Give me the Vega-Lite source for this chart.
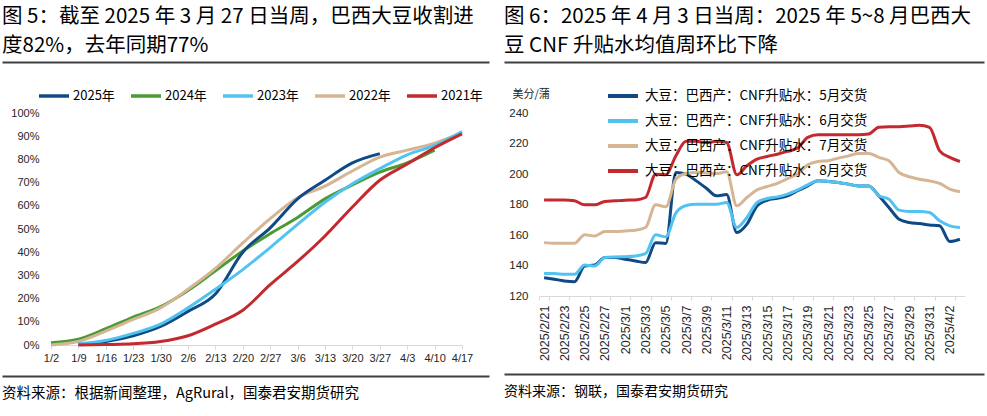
{
  "$schema": "https://vega.github.io/schema/vega-lite/v6.json",
  "background": "white",
  "padding": {"left": 2, "top": 0, "right": 0, "bottom": 0},
  "config": {
    "view": {"stroke": null},
    "font": "Liberation Sans",
    "axis": {"labelFont": "Liberation Sans", "labelColor": "#262626", "grid": false}
  },
  "resolve": {"scale": {"color": "independent"}, "legend": {"color": "independent"}},
  "spacing": -34,
  "hconcat": [
    {
      "columns": 1,
      "align": "none",
      "spacing": 13,
      "resolve": {"scale": {"color": "independent"}, "legend": {"color": "independent"}},
      "concat": [
        {
          "width": 438,
          "height": 66,
          "data": {"values": [
            {"line": 1, "text": "图 5：截至 2025 年 3 月 27 日当周，巴西大豆收割进"},
            {"line": 2, "text": "度82%，去年同期77%"}
          ]},
          "mark": {"type": "text", "align": "left", "baseline": "middle", "font": "Noto Sans CJK SC", "fontSize": 20.5, "color": "#000000"},
          "encoding": {
            "x": {"datum": 0, "type": "quantitative", "scale": {"domain": [0, 1], "range": [-49, 438]},
                  "axis": {"domain": true, "domainColor": "#404040", "domainWidth": 2, "ticks": false, "labels": false, "title": null, "offset": -4}},
            "y": {"field": "line", "type": "ordinal", "scale": {"type": "point", "range": [17, 46], "padding": 0}, "axis": null},
            "text": {"field": "text"}
          }
        },
        {
          "width": 411,
          "height": 232,
          "data": {"values": [
            {"date": "1/2", "2024年": 1, "2022年": 0},
            {"date": "1/9", "2025年": 0.3, "2024年": 2.5, "2023年": 0.5, "2022年": 1.5, "2021年": 0},
            {"date": "1/16", "2025年": 1.5, "2024年": 7, "2023年": 2, "2022年": 6, "2021年": 0.2},
            {"date": "1/23", "2025年": 4, "2024年": 12, "2023年": 5, "2022年": 11, "2021年": 0.5},
            {"date": "1/30", "2025年": 8, "2024年": 16.5, "2023年": 9, "2022年": 16, "2021年": 1.5},
            {"date": "2/6", "2025年": 14.5, "2024年": 23.5, "2023年": 16, "2022年": 24, "2021年": 4},
            {"date": "2/13", "2025年": 22, "2024年": 32, "2023年": 24, "2022年": 33, "2021年": 9},
            {"date": "2/20", "2025年": 40, "2024年": 40.5, "2023年": 32.5, "2022年": 44, "2021年": 15},
            {"date": "2/27", "2025年": 50.5, "2024年": 48, "2023年": 42, "2022年": 54.5, "2021年": 26},
            {"date": "3/6", "2025年": 63, "2024年": 55, "2023年": 52, "2022年": 63.5, "2021年": 36},
            {"date": "3/13", "2025年": 71, "2024年": 63, "2023年": 61.5, "2022年": 68.5, "2021年": 47},
            {"date": "3/20", "2025年": 78.5, "2024年": 69, "2023年": 69.5, "2022年": 75, "2021年": 59.5},
            {"date": "3/27", "2025年": 82.5, "2024年": 74.5, "2023年": 76, "2022年": 81, "2021年": 71},
            {"date": "4/3", "2024年": 78.5, "2023年": 82, "2022年": 84, "2021年": 78},
            {"date": "4/10", "2024年": 84, "2023年": 86, "2022年": 87, "2021年": 85},
            {"date": "4/17", "2023年": 92, "2022年": 91.5, "2021年": 91}
          ]},
          "transform": [
            {"fold": ["2025年", "2024年", "2023年", "2022年", "2021年"], "as": ["year", "value"]},
            {"filter": "isValid(datum.value)"}
          ],
          "mark": {"type": "line", "interpolate": "monotone", "strokeWidth": 3},
          "encoding": {
            "x": {"field": "date", "type": "ordinal", "sort": null, "scale": {"type": "point", "padding": 0},
                  "axis": {"title": null, "labelAngle": 0, "labelFontSize": 11, "domainColor": "#d9d9d9", "tickColor": "#d9d9d9", "tickSize": 4, "labelPadding": 3}},
            "y": {"field": "value", "type": "quantitative", "scale": {"domain": [0, 100], "nice": false},
                  "axis": {"title": null, "values": [0, 10, 20, 30, 40, 50, 60, 70, 80, 90, 100], "labelExpr": "datum.value + '%'", "domain": false, "ticks": false, "labelPadding": 12, "minExtent": 49, "labelFontSize": 11}},
            "color": {"field": "year", "type": "nominal",
                      "scale": {"domain": ["2025年", "2024年", "2023年", "2022年", "2021年"], "range": ["#0f4a85", "#4a9b34", "#52c3f1", "#d5b593", "#c3292e"]},
                      "legend": {"orient": "none", "legendX": -14, "legendY": -34, "direction": "horizontal", "columns": 5, "title": null,
                                 "symbolType": "stroke", "symbolSize": 900, "symbolStrokeWidth": 3.5,
                                 "labelFont": "Noto Sans CJK SC", "labelFontSize": 13, "labelColor": "#000000", "labelOffset": 2, "columnPadding": 9}}
          }
        },
        {
          "width": 438,
          "height": 36,
          "data": {"values": [{"text": "资料来源：根据新闻整理，AgRural，国泰君安期货研究"}]},
          "mark": {"type": "text", "align": "left", "baseline": "middle", "font": "Noto Sans CJK SC", "fontSize": 14.5, "color": "#000000"},
          "encoding": {
            "x": {"datum": 0, "type": "quantitative", "scale": {"domain": [0, 1], "range": [-49, 438]},
                  "axis": {"orient": "top", "domain": true, "domainColor": "#404040", "domainWidth": 2, "ticks": false, "labels": false, "title": null}},
            "text": {"field": "text"}
          }
        }
      ]
    },
    {
      "columns": 1,
      "align": "none",
      "spacing": 13,
      "resolve": {"scale": {"color": "independent"}, "legend": {"color": "independent"}},
      "concat": [
        {
          "width": 445,
          "height": 66,
          "data": {"values": [
            {"line": 1, "text": "图 6：2025 年 4 月 3 日当周：2025 年 5~8 月巴西大"},
            {"line": 2, "text": "豆 CNF 升贴水均值周环比下降"}
          ]},
          "mark": {"type": "text", "align": "left", "baseline": "middle", "font": "Noto Sans CJK SC", "fontSize": 20.5, "color": "#000000"},
          "encoding": {
            "x": {"datum": 0, "type": "quantitative", "scale": {"domain": [0, 1], "range": [-35, 445]},
                  "axis": {"domain": true, "domainColor": "#404040", "domainWidth": 2, "ticks": false, "labels": false, "title": null, "offset": -4}},
            "y": {"field": "line", "type": "ordinal", "scale": {"type": "point", "range": [17, 46], "padding": 0}, "axis": null},
            "text": {"field": "text"}
          }
        },
        {
          "width": 426,
          "height": 183,
          "data": {"values": [
            {"date": "2025/2/21", "5月": 132.0, "6月": 134.7, "7月": 155.0, "8月": 183.0},
            {"date": "2025/2/22", "5月": 131.0, "6月": 134.7, "7月": 154.6, "8月": 183.0},
            {"date": "2025/2/23", "5月": 129.9, "6月": 134.2, "7月": 154.6, "8月": 183.0},
            {"date": "2025/2/24", "5月": 129.4, "6月": 134.2, "7月": 154.6, "8月": 182.4},
            {"date": "2025/2/25", "5月": 139.7, "6月": 140.4, "7月": 160.1, "8月": 179.8},
            {"date": "2025/2/26", "5月": 140.4, "6月": 139.7, "7月": 159.4, "8月": 179.8},
            {"date": "2025/2/27", "5月": 145.2, "6月": 145.2, "7月": 162.3, "8月": 182.0},
            {"date": "2025/2/28", "5月": 145.2, "6月": 145.6, "7月": 162.3, "8月": 182.4},
            {"date": "2025/3/1", "5月": 144.1, "6月": 145.8, "7月": 162.7, "8月": 182.8},
            {"date": "2025/3/2", "5月": 143.0, "6月": 146.3, "7月": 163.1, "8月": 183.0},
            {"date": "2025/3/3", "5月": 141.9, "6月": 147.8, "7月": 164.9, "8月": 184.6},
            {"date": "2025/3/4", "5月": 155.0, "6月": 160.1, "7月": 179.8, "8月": 199.9},
            {"date": "2025/3/5", "5月": 154.4, "6月": 158.8, "7月": 178.5, "8月": 199.5},
            {"date": "2025/3/6", "5月": 201.0, "6月": 174.5, "7月": 196.5, "8月": 212.0},
            {"date": "2025/3/7", "5月": 199.9, "6月": 179.3, "7月": 200.3, "8月": 221.4},
            {"date": "2025/3/8", "5月": 195.5, "6月": 180.2, "7月": 201.0, "8月": 221.4},
            {"date": "2025/3/9", "5月": 190.7, "6月": 180.2, "7月": 200.6, "8月": 220.7},
            {"date": "2025/3/10", "5月": 185.7, "6月": 180.2, "7月": 200.3, "8月": 221.4},
            {"date": "2025/3/11", "5月": 186.5, "6月": 181.3, "7月": 201.4, "8月": 220.7},
            {"date": "2025/3/12", "5月": 161.6, "6月": 164.9, "7月": 179.1, "8月": 199.5},
            {"date": "2025/3/13", "5月": 167.1, "6月": 171.5, "7月": 184.6, "8月": 205.4},
            {"date": "2025/3/14", "5月": 179.1, "6月": 181.3, "7月": 189.6, "8月": 209.8},
            {"date": "2025/3/15", "5月": 182.8, "6月": 183.9, "7月": 191.8, "8月": 211.5},
            {"date": "2025/3/16", "5月": 184.1, "6月": 185.0, "7月": 193.8, "8月": 213.0},
            {"date": "2025/3/17", "5月": 185.7, "6月": 186.8, "7月": 197.0, "8月": 214.8},
            {"date": "2025/3/18", "5月": 189.0, "6月": 189.6, "7月": 200.0, "8月": 217.0},
            {"date": "2025/3/19", "5月": 192.2, "6月": 192.9, "7月": 206.0, "8月": 224.0},
            {"date": "2025/3/20", "5月": 195.5, "6月": 195.5, "7月": 208.2, "8月": 225.7},
            {"date": "2025/3/21", "5月": 195.1, "6月": 195.1, "7月": 208.7, "8月": 225.7},
            {"date": "2025/3/22", "5月": 194.4, "6月": 194.4, "7月": 210.4, "8月": 225.7},
            {"date": "2025/3/23", "5月": 193.3, "6月": 193.3, "7月": 211.9, "8月": 225.7},
            {"date": "2025/3/24", "5月": 192.2, "6月": 192.2, "7月": 213.5, "8月": 225.7},
            {"date": "2025/3/25", "5月": 192.2, "6月": 192.2, "7月": 213.5, "8月": 226.2},
            {"date": "2025/3/26", "5月": 185.7, "6月": 185.7, "7月": 210.9, "8月": 230.6},
            {"date": "2025/3/27", "5月": 178.0, "6月": 183.5, "7月": 208.7, "8月": 231.0},
            {"date": "2025/3/28", "5月": 170.4, "6月": 176.3, "7月": 201.0, "8月": 231.0},
            {"date": "2025/3/29", "5月": 168.2, "6月": 175.4, "7月": 198.2, "8月": 231.4},
            {"date": "2025/3/30", "5月": 167.5, "6月": 175.4, "7月": 196.6, "8月": 231.9},
            {"date": "2025/3/31", "5月": 166.6, "6月": 174.7, "7月": 195.5, "8月": 230.6},
            {"date": "2025/4/1", "5月": 166.0, "6月": 169.3, "7月": 193.8, "8月": 215.2},
            {"date": "2025/4/2", "5月": 155.7, "6月": 166.0, "7月": 190.1, "8月": 210.9},
            {"date": "2025/4/3", "5月": 157.2, "6月": 164.9, "7月": 188.3, "8月": 208.2}
          ]},
          "transform": [
            {"fold": ["5月", "6月", "7月", "8月"], "as": ["month", "value"]}
          ],
          "mark": {"type": "line", "interpolate": "monotone", "strokeWidth": 3},
          "encoding": {
            "x": {"field": "date", "type": "ordinal", "sort": null, "bandPosition": 0.5,
                  "scale": {"type": "band", "paddingInner": 0, "paddingOuter": 0},
                  "axis": {"title": null, "tickBand": "extent",
                           "values": ["2025/2/21", "2025/2/23", "2025/2/25", "2025/2/27", "2025/3/1", "2025/3/3", "2025/3/5", "2025/3/7", "2025/3/9", "2025/3/11", "2025/3/13", "2025/3/15", "2025/3/17", "2025/3/19", "2025/3/21", "2025/3/23", "2025/3/25", "2025/3/27", "2025/3/29", "2025/3/31", "2025/4/2"],
                           "labelAngle": 270, "labelAlign": "right", "labelBaseline": "middle", "labelFontSize": 12.5,
                           "domainColor": "#d9d9d9", "tickColor": "#d9d9d9", "tickSize": 4, "labelPadding": 5}},
            "y": {"field": "value", "type": "quantitative", "scale": {"domain": [120, 240], "nice": false},
                  "axis": {"values": [120, 140, 160, 180, 200, 220, 240], "domain": false, "ticks": false, "labelPadding": 11, "minExtent": 35, "labelFontSize": 11.5,
                           "title": "美分/蒲", "titleAngle": 0, "titleX": -27, "titleY": -19, "titleAlign": "left", "titleBaseline": "middle",
                           "titleFont": "Noto Sans CJK SC", "titleFontSize": 11, "titleFontWeight": "normal", "titleColor": "#262626"}},
            "color": {"field": "month", "type": "nominal",
                      "scale": {"domain": ["5月", "6月", "7月", "8月"], "range": ["#0f4a85", "#52c3f1", "#d5b593", "#c3292e"]},
                      "legend": {"orient": "none", "legendX": 67, "legendY": -34, "direction": "vertical", "title": null,
                                 "symbolType": "stroke", "symbolSize": 900, "symbolStrokeWidth": 4,
                                 "labelExpr": "'大豆：巴西产：CNF升贴水：' + datum.label + '交货'",
                                 "labelFont": "Noto Sans CJK SC", "labelFontSize": 13.5, "labelColor": "#000000", "labelOffset": 5, "rowPadding": -7, "labelLimit": 400}}
          }
        },
        {
          "width": 445,
          "height": 36,
          "data": {"values": [{"text": "资料来源：钢联，国泰君安期货研究"}]},
          "mark": {"type": "text", "align": "left", "baseline": "middle", "font": "Noto Sans CJK SC", "fontSize": 14, "color": "#000000"},
          "encoding": {
            "x": {"datum": 0, "type": "quantitative", "scale": {"domain": [0, 1], "range": [-35, 445]},
                  "axis": {"orient": "top", "domain": true, "domainColor": "#404040", "domainWidth": 2, "ticks": false, "labels": false, "title": null}},
            "text": {"field": "text"}
          }
        }
      ]
    }
  ]
}
